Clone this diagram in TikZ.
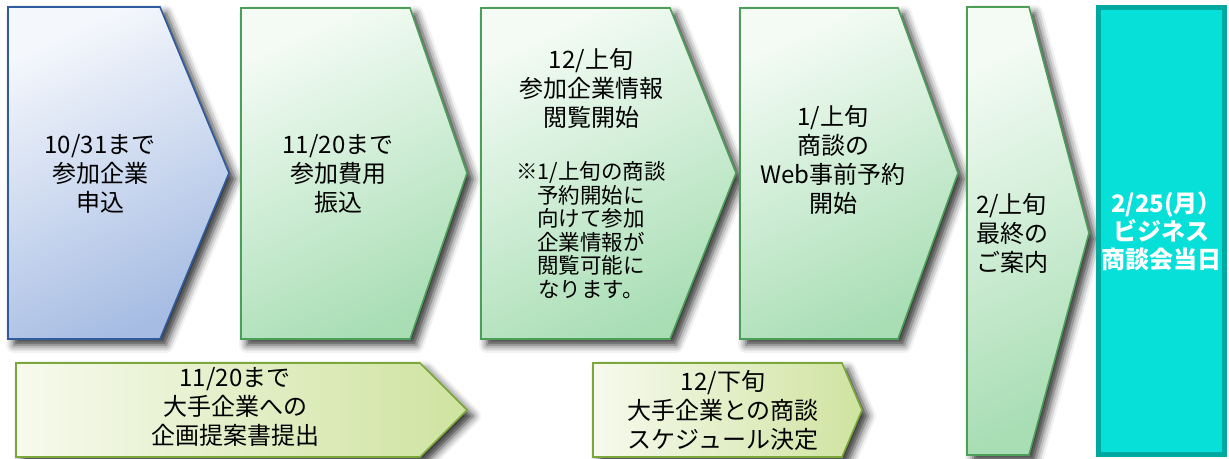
\documentclass[tikz,border=0pt]{standalone}
\usepackage{fontspec}
\setmainfont{Noto Sans CJK JP}
\usetikzlibrary{shadows.blur}

\definecolor{bluetop}{HTML}{F4F7FC}
\definecolor{bluebot}{HTML}{A6BCE3}
\definecolor{blueline}{HTML}{2F5C9E}
\definecolor{greentop}{HTML}{F3FBF4}
\definecolor{greenbot}{HTML}{A9DEB5}
\definecolor{greenline}{HTML}{4C9F58}
\definecolor{olivel}{HTML}{F7FAEE}
\definecolor{oliver}{HTML}{CFE3A0}
\definecolor{oliveline}{HTML}{7BA83A}
\definecolor{tealfill}{HTML}{06E0D9}
\definecolor{tealline}{HTML}{00A9A0}

\tikzset{
  arr/.style={line width=1.6pt, line join=miter,
    blur shadow={shadow xshift=6pt, shadow yshift=-6pt, shadow blur radius=8pt, shadow opacity=80}},
  bluearr/.style={arr, draw=blueline, top color=bluetop, bottom color=bluebot, shading angle=25},
  greenarr/.style={arr, draw=greenline, top color=greentop, bottom color=greenbot, shading angle=25},
  olivearr/.style={arr, draw=oliveline, left color=olivel, right color=oliver},
  txt/.style={align=center, inner sep=0pt, font=\fontsize{24}{29}\selectfont},
  small/.style={align=center, inner sep=0pt, font=\fontsize{21.5}{23.5}\selectfont}
}

\begin{document}
\begin{tikzpicture}[x=1pt,y=-1pt]
%\draw [help lines, step=50] (0,0) grid (1229,458);
\useasboundingbox (0,0) rectangle (1229,458);

% top row
\draw [bluearr]  (8,7)--(160,7)--(229,173)--(160,339)--(8,339)--cycle;
\draw [greenarr] (241,8)--(410,8)--(467,173)--(410,339)--(241,339)--cycle;
\draw [greenarr] (481,8)--(670,8)--(736,173)--(670,339)--(481,339)--cycle;
\draw [greenarr] (740,8)--(898,8)--(958,173)--(898,339)--(740,339)--cycle;
\draw [greenarr] (967,7)--(1029,7)--(1089,233)--(1029,455)--(967,455)--cycle;
\draw [line width=5pt, draw=tealline, fill=tealfill] (1098.5,7.5) rectangle (1224.5,454.5);

% bottom row
\draw [olivearr] (16,363)--(420,363)--(467,410)--(420,457)--(16,457)--cycle;
\draw [olivearr] (593,363)--(842,363)--(862,410)--(842,457)--(593,457)--cycle;

\node (apply) [txt] at (100,174) {10/31まで\\参加企業\\申込};
\node (pay) [txt] at (338,174) {11/20まで\\参加費用\\振込};
\node (view) [txt] at (591,88) {12/上旬\\参加企業情報\\閲覧開始};
\node (note) [small] at (591,230) {※1/上旬の商談\\予約開始に\\向けて参加\\企業情報が\\閲覧可能に\\なります。};
\node (book) [txt] at (833,160) {1/上旬\\商談の\\Web事前予約\\開始};
\node (guide) [txt, align=left, anchor=west] at (976,233) {2/上旬\\最終の\\ご案内};
\node (day) [txt, text=white, font=\fontsize{24}{28}\selectfont\bfseries] at (1161,231) {2/25(月）\kern-11pt\\ビジネス\\商談会当日};

\node (plan) [txt] at (235,407) {11/20まで\\大手企業への\\企画提案書提出};
\node (sched) [txt] at (723,410) {12/下旬\\大手企業との商談\\スケジュール決定};
\end{tikzpicture}
\end{document}
